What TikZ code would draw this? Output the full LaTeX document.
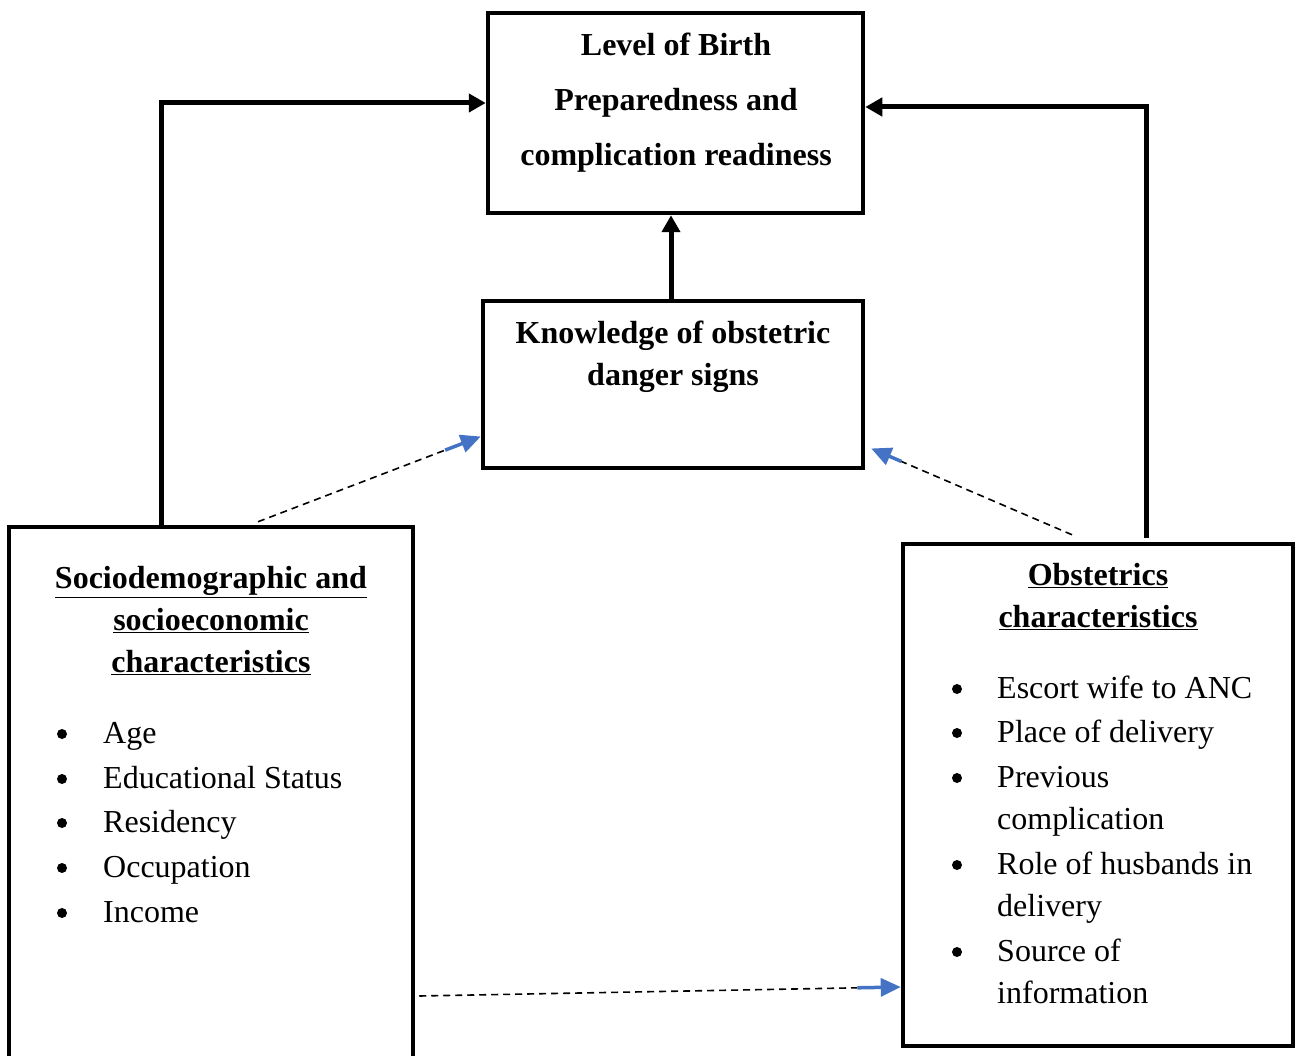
\documentclass[tikz,border=0pt]{standalone}
\usepackage{fontspec}
\setmainfont{Liberation Serif}
\usetikzlibrary{arrows.meta,calc}
\definecolor{arrowblue}{RGB}{68,114,196}
\begin{document}
\begin{tikzpicture}[x=1pt,y=-1pt,
    box/.style = {draw, line width=4.5pt, rectangle, inner sep=0pt},
    title/.style = {font=\fontsize{32}{38}\selectfont\bfseries, inner sep=0pt, anchor=mid},
    item/.style = {font=\fontsize{32}{38}\selectfont, inner sep=0pt, anchor=mid west},
    dot/.style = {fill, circle, inner sep=0pt, minimum size=10pt},
    link/.style = {line width=5pt, -{Triangle[length=17pt,width=18pt]}},
    hint/.style = {line width=1.6pt, dash pattern=on 7pt off 5pt},
    hinthead/.style = {arrowblue, line width=3.5pt, -{Triangle[length=20pt,width=18pt]}}]
    \useasboundingbox (0,0) rectangle (1296,1056);
    \node[box, minimum width=375pt, minimum height=200pt] (birth) at (675.5,113) {};
    \node[box, minimum width=380pt, minimum height=167pt] (know) at (673,384.5) {};
    \node[box, minimum width=404pt, minimum height=572pt] (socio) at (211,813) {};
    \node[box, minimum width=390pt, minimum height=502pt] (obst) at (1098,795) {};

    \node[title] (b1) at (676,53) {Level of Birth};
    \node[title] (b2) at (676,108) {Preparedness and};
    \node[title] (b3) at (676,163) {complication readiness};

    \node[title] (k1) at (673,341) {Knowledge of obstetric};
    \node[title] (k2) at (673,383) {danger signs};

    \node[title] (s1) at (211,586) {\underline{Sociodemographic and}};
    \node[title] (s2) at (211,628) {\underline{socioeconomic}};
    \node[title] (s3) at (211,670) {\underline{characteristics}};
    \foreach \y/\txt in {741/Age, 786/Educational Status, 830/Residency, 875/Occupation, 920/Income} {
        \node[dot] at (62,\y-7) {};
        \node[item] at (103,\y) {\txt};
    }

    \node[title] (o1) at (1098,583) {\underline{Obstetrics}};
    \node[title] (o2) at (1098,625) {\underline{characteristics}};
    \foreach \y in {696, 740, 785, 872, 959} {
        \node[dot] at (957,\y-7) {};
    }
    \foreach \y/\txt in {696/Escort wife to ANC, 740/Place of delivery, 785/Previous, 827/complication, 872/Role of husbands in, 914/delivery, 959/Source of, 1001/information} {
        \node[item] at (997,\y) {\txt};
    }

    % solid links
    \draw[link] ([xshift=-50pt]socio.north) |- ([yshift=10pt]birth.west);
    \draw[link] ([xshift=48pt,yshift=4pt]obst.north) |- ([yshift=6pt]birth.east);
    \draw[link] ([xshift=-2pt]know.north) -- ([xshift=-2pt]know.north |- birth.south);

    % dashed links
    \coordinate (d1s) at ([xshift=47pt,yshift=3pt]socio.north);
    \coordinate (d1e) at ([yshift=-52pt]know.west);
    \coordinate (d2s) at ([xshift=-26pt,yshift=7pt]obst.north);
    \coordinate (d2e) at ([xshift=6pt,yshift=-64pt]know.east);
    \coordinate (d3s) at ([xshift=4pt,yshift=-183pt]socio.east);
    \coordinate (d3e) at ([yshift=-192pt]obst.west);
    \draw[hint] (d1s) -- ($(d1s)!0.84!(d1e)$);
    \draw[hinthead] ($(d1s)!0.84!(d1e)$) -- (d1e);
    \draw[hint] (d2s) -- ($(d2s)!0.85!(d2e)$);
    \draw[hinthead] ($(d2s)!0.85!(d2e)$) -- (d2e);
    \draw[hint] (d3s) -- ($(d3s)!0.91!(d3e)$);
    \draw[hinthead] ($(d3s)!0.91!(d3e)$) -- (d3e);
\end{tikzpicture}
\end{document}
